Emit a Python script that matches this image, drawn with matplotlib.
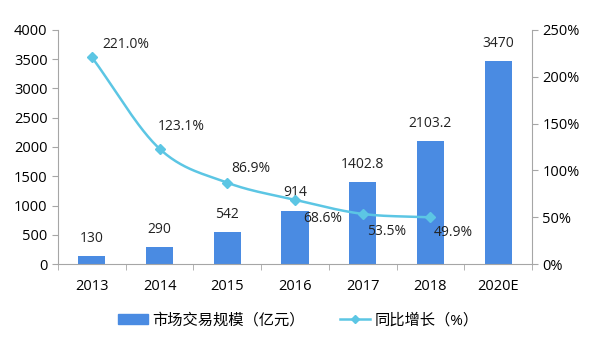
import matplotlib.pyplot as plt
from matplotlib.lines import Line2D
from matplotlib.patches import Patch
import numpy as np

plt.rcParams['font.family'] = ['Open Sans', 'Noto Sans CJK SC', 'DejaVu Sans']

years = ['2013', '2014', '2015', '2016', '2017', '2018', '2020E']
scale = [130, 290, 542, 914, 1402.8, 2103.2, 3470]
growth = [221.0, 123.1, 86.9, 68.6, 53.5, 49.9]
scale_labels = ['130', '290', '542', '914', '1402.8', '2103.2', '3470']

bar_color = '#4A8BE2'
line_color = '#5CC6E4'
spine_color = '#A6A6A6'


def smooth(xs, ys, n=30):
    # catmull-rom curve through the points, like excel's smoothed line
    xs = np.asarray(xs, float)
    ys = np.asarray(ys, float)
    px = np.concatenate([[2 * xs[0] - xs[1]], xs, [2 * xs[-1] - xs[-2]]])
    py = np.concatenate([[2 * ys[0] - ys[1]], ys, [2 * ys[-1] - ys[-2]]])
    ox, oy = [], []
    t = np.linspace(0, 1, n)
    for i in range(1, len(px) - 2):
        for p, out in ((px, ox), (py, oy)):
            p0, p1, p2, p3 = p[i - 1], p[i], p[i + 1], p[i + 2]
            out.extend(0.5 * (2 * p1 + (-p0 + p2) * t
                              + (2 * p0 - 5 * p1 + 4 * p2 - p3) * t ** 2
                              + (-p0 + 3 * p1 - 3 * p2 + p3) * t ** 3))
    return np.array(ox), np.array(oy)


fig = plt.figure(figsize=(6.02, 3.4), dpi=100)
ax = fig.add_axes([0.0963, 0.2235, 0.7874, 0.6883])
ax2 = ax.twinx()

x = np.arange(len(years))
ax.bar(x, scale, width=0.4, color=bar_color, zorder=2)
for xi, v, s in zip(x, scale, scale_labels):
    ax.text(xi, v + 300, s, ha='center', va='center', fontsize=10, color='#222222')

ax.set_xlim(-0.5, len(years) - 0.5)
ax.set_ylim(0, 4000)
ax.set_yticks(range(0, 4001, 500))
ax.set_xticks(x)
ax.set_xticklabels(years)
ax.set_xticks(np.arange(-0.5, len(years), 1), minor=True)
ax.tick_params(axis='x', which='major', length=0, pad=11, labelsize=10.5)
ax.tick_params(axis='x', which='minor', length=4, color=spine_color)
ax.tick_params(axis='y', length=4, color=spine_color, labelsize=10.5)

gx = x[:len(growth)]
sx, sy = smooth(gx, growth)
ax2.plot(sx, sy, color=line_color, lw=1.8, zorder=3)
ax2.plot(gx, growth, ls='none', marker='D', ms=5, color=line_color, zorder=4)
ax2.set_ylim(0, 250)
ax2.set_yticks(range(0, 251, 50))
ax2.set_yticklabels([f'{v}%' for v in range(0, 251, 50)])
ax2.tick_params(axis='y', length=4, color=spine_color, labelsize=10.5)

# label offsets from each point (categories, percent units)
offsets = [(0.16, 14), (-0.03, 23.5), (0.06, 15), (0.12, -20), (0.07, -19), (0.05, -16)]
for xi, v, (dx, dy) in zip(gx, growth, offsets):
    ax2.text(xi + dx, v + dy, f'{v:.1f}%', ha='left', va='center', fontsize=10, color='#222222')

for a in (ax, ax2):
    a.spines['top'].set_visible(False)
    for side in ('left', 'right', 'bottom'):
        a.spines[side].set_color(spine_color)
ax2.spines['left'].set_visible(False)
ax.spines['right'].set_visible(False)
ax2.spines['bottom'].set_visible(False)

handles = [Patch(color=bar_color),
           Line2D([], [], color=line_color, lw=1.8, marker='D', ms=4)]
fig.legend(handles, ['市场交易规模（亿元）', '同比增长（%）'], loc='center',
           bbox_to_anchor=(0.495, 0.056), ncol=2, frameon=False, fontsize=11,
           handlelength=2.0, columnspacing=2.3, handletextpad=0.26)

fig.savefig('out.png', dpi=100)
